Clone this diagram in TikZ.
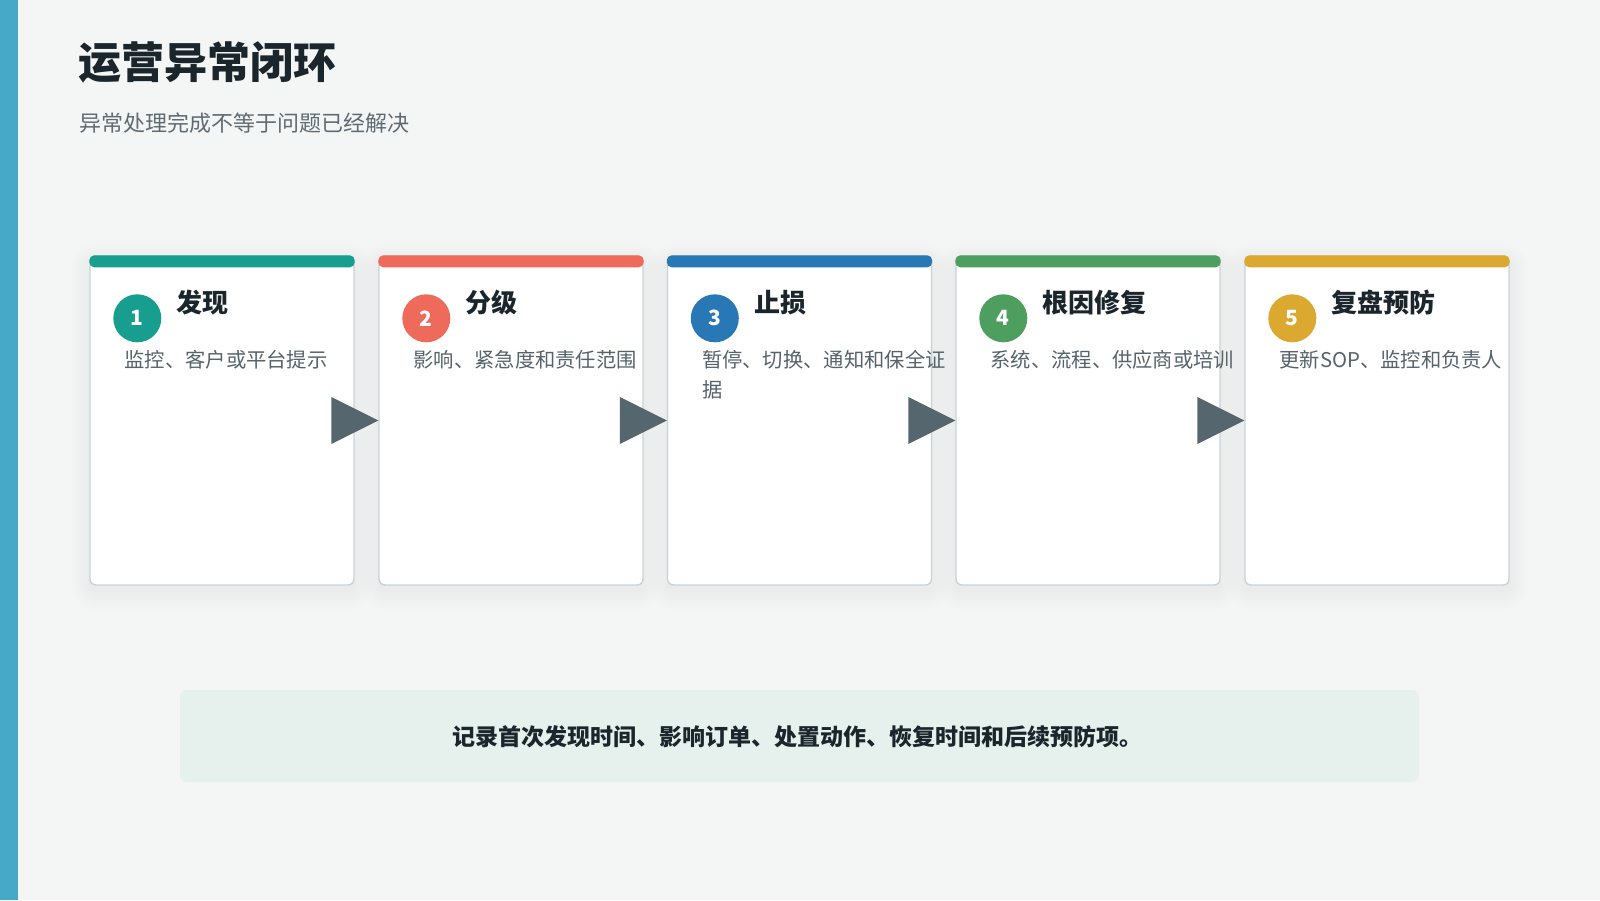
\documentclass[tikz,border=0pt]{standalone}
\usepackage{fontspec}
\setmainfont{Noto Sans CJK SC}
\usetikzlibrary{calc}
\definecolor{bg}{HTML}{F4F6F5}
\definecolor{stripe}{HTML}{46A9C8}
\definecolor{titlec}{HTML}{1B262C}
\definecolor{subc}{HTML}{5F6B73}
\definecolor{descc}{HTML}{56636B}
\definecolor{cardborder}{HTML}{C8D3D9}
\definecolor{arrowc}{HTML}{56666F}
\definecolor{notebg}{HTML}{E6F0EC}
\definecolor{shadowc}{HTML}{203A40}
\definecolor{cA}{HTML}{179E8F}
\definecolor{cB}{HTML}{EE6A5A}
\definecolor{cC}{HTML}{2878B5}
\definecolor{cD}{HTML}{4E9E5F}
\definecolor{cE}{HTML}{DBA830}
\tikzset{
  card/.style={draw=cardborder, line width=1.4pt, fill=white, rounded corners=6pt,
    minimum width=264pt, minimum height=329pt, inner sep=0pt},
  shadowlayer/.style={fill=shadowc, fill opacity=0.0045},
  numcircle/.style={circle, minimum size=48pt, inner sep=0pt, text=white,
    font=\fontsize{21}{21}\selectfont\bfseries},
  steptitle/.style={anchor=west, inner sep=0pt, text=titlec, font=\fontsize{26}{26}\selectfont\bfseries},
  stepdesc/.style={anchor=north west, inner sep=0pt, text=descc, align=left,
    font=\fontsize{20.3}{30}\selectfont},
  tri/.style={fill=arrowc},
}
\begin{document}
\begin{tikzpicture}[x=1pt,y=-1pt]
\useasboundingbox (0,0) rectangle (1600,900);
\fill[bg] (0,0) rectangle (1600,900);
\fill[stripe] (0,0) rectangle (18,900);
\node[anchor=west, inner sep=0pt, text=titlec, font=\fontsize{43}{43}\selectfont\bfseries] (title) at (78,62) {运营异常闭环};
\node[anchor=west, inner sep=0pt, text=subc, font=\fontsize{22}{22}\selectfont] (subtitle) at (79,123) {异常处理完成不等于问题已经解决};
% soft shadows
\foreach \x in {222,511,799.5,1088,1377}{
  \foreach \k in {1,3,...,19}{
    \fill[shadowlayer, rounded corners={6pt+\k pt}] (\x-132-\k,255-\k+7) rectangle (\x+132+\k,584+\k+7);
  }
}
% cards
\foreach \i/\x/\col/\t/\d in {1/222/cA/发现/监控、客户或平台提示,
  2/511/cB/分级/影响、紧急度和责任范围,
  3/799.5/cC/止损/暂停、切换、通知和保全证\\据,
  4/1088/cD/根因修复/系统、流程、供应商或培训,
  5/1377/cE/复盘预防/更新SOP、监控和负责人}{
  \node[card] (c\i) at (\x,420.5) {};
  \fill[\col, rounded corners=5pt] (c\i.north west) rectangle ($(c\i.north east)+(0,12)$);
  \node[numcircle, fill=\col] (n\i) at ($(c\i.north west)+(48,63)$) {\i};
  \node[steptitle] (t\i) at ($(c\i.north west)+(87,47)$) {\t};
  \node[stepdesc] (d\i) at ($(c\i.north west)+(35,95)$) {\d};
}
% arrows
\foreach \a/\b in {1/2,2/3,3/4,4/5}{
  \fill[tri] (c\b.west) -- ++(-47,-23.5) -- ++(0,47) -- cycle;
}
% note
\node[fill=notebg, rounded corners=7pt, minimum width=1239pt, minimum height=92pt, inner sep=0pt] (note) at (799.5,736) {};
\node[inner sep=0pt, text=titlec, font=\fontsize{23}{23}\selectfont\bfseries] (notetext) at ($(note.center)+(-2,1)$) {记录首次发现时间、影响订单、处置动作、恢复时间和后续预防项。};
\end{tikzpicture}
\end{document}
